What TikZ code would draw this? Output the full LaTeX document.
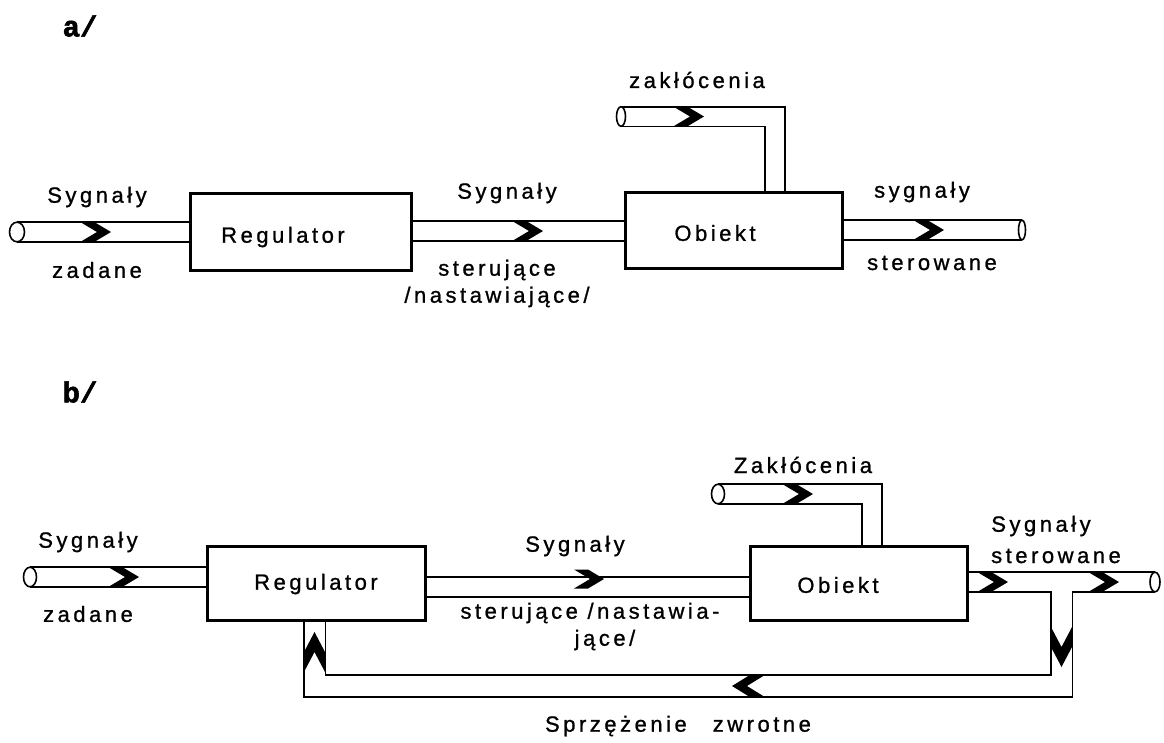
\documentclass[tikz,border=0pt]{standalone}
\usepackage{fontspec}
\setmainfont{Liberation Sans}[LetterSpace=16,FakeBold=1]
\newfontfamily\titlefont{Liberation Mono}[FakeBold=2]
\pgfdeclarelayer{bg}
\pgfsetlayers{bg,main}
\tikzset{
  box/.style={draw, line width=3pt, inner sep=0pt},
  lbl/.style={inner sep=0pt, font=\fontsize{22}{24}\selectfont},
  ttl/.style={inner sep=0pt, font=\titlefont\bfseries\fontsize{29}{31}\selectfont},
  pipe/.style={draw, line width=1.6pt, double=white, double distance=18pt, line join=miter},
  pipeF/.style={draw, line width=1.6pt, double=white, double distance=20pt, line join=miter},
  pipeend/.style={draw, line width=1.6pt, fill=white},
  pics/chev/.style n args={3}{code={
    \fill (-#1,-#3) -- ({#1-#2},-#3) -- (#1,0) -- ({#1-#2},#3) -- (-#1,#3) -- ({-#1+#2},0) -- cycle;}}
}
\begin{document}
\begin{tikzpicture}[x=1pt,y=-1pt]
\useasboundingbox (0,0) rectangle (1164,742);

% ---------------- a/ ----------------
\node[ttl] (ta) at (80,26) {a/};
\node[box, minimum width=221pt, minimum height=77pt] (regA) at (300.5,231.5) {};
\node[box, minimum width=217pt, minimum height=76pt] (obA) at (733.5,230) {};
\node[lbl] (regAt) at (283,237) {Regulator};
\node[lbl] (obAt) at (715,233) {Obiekt};
\coordinate (inA) at (17,232);
\coordinate (outA) at (1022,230);
\coordinate (zA) at (621,116.5);
\coordinate (zAc) at (775,116.5);

\begin{pgfonlayer}{bg}
\draw[pipe] (inA) -- (inA -| regA.west);
\draw[pipe] ([yshift=0.5pt]regA.east) -- ([yshift=0.5pt]regA.east -| obA.west);
\draw[pipe] (obA.east |- outA) -- (outA);
\draw[pipe] (zA) -- (zAc) -- (zAc |- obA.north);
\draw[pipeend] (inA) ellipse [x radius=7.5pt, y radius=9.8pt];
\draw[line width=1.6pt] (outA) ellipse [x radius=3.5pt, y radius=9.8pt];
\draw[pipeend] (zA) ellipse [x radius=4.5pt, y radius=9.8pt];
\pic at (96,232) {chev={15}{16}{9.5}};
\pic at (528,231) {chev={15}{16}{9.5}};
\pic at (929,230) {chev={15}{16}{9.5}};
\pic at (689,116.5) {chev={15}{16}{9.5}};
\end{pgfonlayer}

\node[lbl] (a1) at (97,197) {Sygnały};
\node[lbl] (a2) at (97,270) {zadane};
\node[lbl] (a3) at (507,193) {Sygnały};
\node[lbl] (a4) at (497,270) {sterujące};
\node[lbl] (a5) at (497,297) {/nastawiające/};
\node[lbl] (a6) at (697,80) {zakłócenia};
\node[lbl] (a7) at (922,192) {sygnały};
\node[lbl] (a8) at (932,263) {sterowane};

% ---------------- b/ ----------------
\node[ttl] (tb) at (80,392) {b/};
\node[box, minimum width=218pt, minimum height=74pt] (regB) at (316,583) {};
\node[box, minimum width=217pt, minimum height=74pt] (obB) at (858.5,583) {};
\node[lbl] (regBt) at (316,584) {Regulator};
\node[lbl] (obBt) at (838,585) {Obiekt};
\coordinate (inB) at (30,577);
\coordinate (outB) at (1155,582);
\coordinate (zB) at (718,494);
\coordinate (zBc) at (872,494);
\coordinate (fbT) at (1061.5,591);
\coordinate (fbR) at (1061.5,686);
\coordinate (fbL) at (314.5,686);

\begin{pgfonlayer}{bg}
\draw[pipe] (inB) -- (inB -| regB.west);
\draw[pipe] ([yshift=-4pt]regB.east) -- ([yshift=-4pt]regB.east -| obB.west);
\draw[pipe] (obB.east |- outB) -- (outB);
\draw[pipe] (zB) -- (zBc) -- (zBc |- obB.north);
\draw[pipeF] (fbT) -- (fbR) -- (fbL) -- (fbL |- regB.south);
\draw[pipeend] (inB) ellipse [x radius=6.5pt, y radius=9.8pt];
\draw[pipeend] (outB) ellipse [x radius=5pt, y radius=9.8pt];
\draw[pipeend] (zB) ellipse [x radius=6.5pt, y radius=9.8pt];
\pic at (124,577) {chev={15}{16}{9.5}};
\pic at (589,579) {chev={15}{16}{9.5}};
\pic at (798,494) {chev={15}{16}{9.5}};
\pic at (993,582) {chev={15}{16}{9.5}};
\pic at (1104,582) {chev={15}{16}{9.5}};
\pic[rotate=-90] at (1061.5,647) {chev={20}{20}{10.5}};
\pic[rotate=90] at (314.5,652) {chev={20}{20}{10.5}};
\pic[rotate=180] at (748,686) {chev={16}{17}{10.5}};
\end{pgfonlayer}

\node[lbl] (b1) at (88,542) {Sygnały};
\node[lbl] (b2) at (88,614) {zadane};
\node[lbl] (b3) at (575,546) {Sygnały};
\node[lbl] (b4) at (590,613) {sterujące /nastawia-};
\node[lbl] (b5) at (605,640) {jące/};
\node[lbl] (b6) at (803,465) {Zakłócenia};
\node[lbl] (b7) at (1041,526) {Sygnały};
\node[lbl] (b8) at (1056,556) {sterowane};
\node[lbl] (b9) at (678,726) {Sprzężenie\hspace{26pt}zwrotne};
\end{tikzpicture}
\end{document}
